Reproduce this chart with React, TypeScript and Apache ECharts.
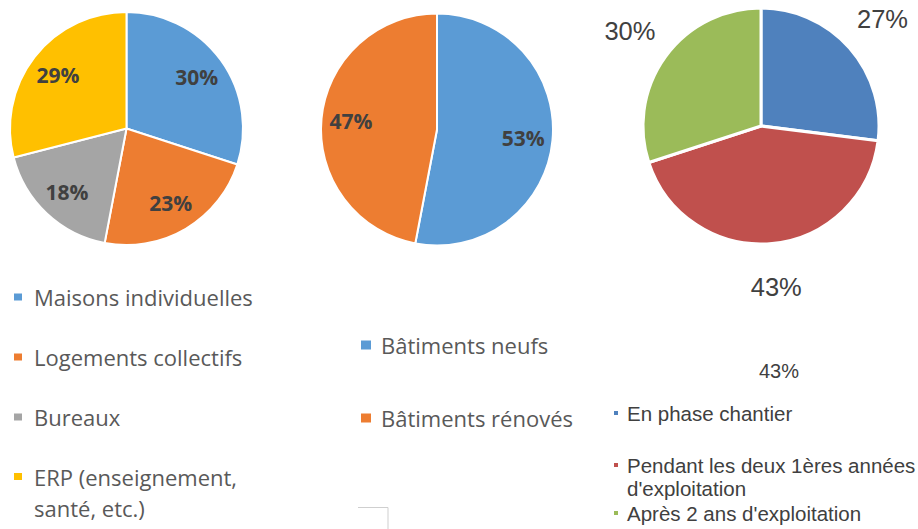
import React, { useEffect, useRef } from "react";
import * as echarts from "echarts";

// Chart 1: building types
const typeCategories = [
  "Maisons individuelles",
  "Logements collectifs",
  "Bureaux",
  "ERP (enseignement,\nsanté, etc.)",
];
const typeValues = [30, 23, 18, 29];
const typeColors = ["#5B9BD5", "#ED7D31", "#A5A5A5", "#FFC000"];

// Chart 2: new vs renovated
const workCategories = ["Bâtiments neufs", "Bâtiments rénovés"];
const workValues = [53, 47];
const workColors = ["#5B9BD5", "#ED7D31"];

// Chart 3: phases
const phaseCategories = [
  "En phase chantier",
  "Pendant les deux 1ères années\nd'exploitation",
  "Après 2 ans d'exploitation",
];
const phaseValues = [27, 43, 30];
const phaseColors = ["#4F81BD", "#C0504D", "#9BBB59"];

const strayLabel = "43%";

const W = 918;
const H = 529;

function makeData(names: string[], values: number[], colors: string[]) {
  return names.map((n, i) => ({ name: n, value: values[i], itemStyle: { color: colors[i] } }));
}
function ghostData(names: string[], values: number[]) {
  return names.map((n, i) => ({ name: n, value: values[i] }));
}

export default function App() {
  const ref = useRef<HTMLDivElement>(null);
  useEffect(() => {
    if (!ref.current) return;
    const chart = echarts.init(ref.current, null, { renderer: "svg" });

    const openSans = "'Open Sans', 'Noto Sans', sans-serif";
    const arial = "'Liberation Sans', Arial, sans-serif";

    const visiblePie = (center: number[], r: number, data: any[], border: number) => ({
      type: "pie",
      center,
      radius: [0, r],
      startAngle: 90,
      clockwise: true,
      silent: true,
      label: { show: false },
      labelLine: { show: false },
      itemStyle: { borderColor: "#ffffff", borderWidth: border },
      emphasis: { disabled: true },
      data,
    });
    const labelPie = (center: number[], r0: number, r1: number, data: any[], labelStyle: any) => ({
      type: "pie",
      center,
      radius: [r0, r1],
      startAngle: 90,
      clockwise: true,
      silent: true,
      itemStyle: { color: "rgba(0,0,0,0)", borderWidth: 0 },
      label: {
        show: true,
        position: "inside",
        formatter: "{c}%",
        ...labelStyle,
      },
      labelLine: { show: false },
      emphasis: { disabled: true },
      legendHoverLink: false,
      data,
    });

    const boldLabel = {
      fontFamily: openSans,
      fontWeight: "bold",
      fontSize: 21,
      color: "#404040",
    };
    const plainLabel = {
      fontFamily: arial,
      fontWeight: "normal",
      fontSize: 25.5,
      color: "#404040",
    };

    const c1 = [126.5, 128.5];
    const r1 = 116.5;
    const c2 = [437, 129.5];
    const r2 = 116;
    const c3 = [761, 126];
    const r3 = 118;

    const legend1Text = {
      fontFamily: openSans,
      fontSize: 22,
      color: "#595959",
      lineHeight: 31,
      padding: [0, 0, 0, 6],
    };
    const legend2Text = { ...legend1Text, padding: [0, 0, 0, 4] };
    const legend3Text = {
      fontFamily: arial,
      fontSize: 20.5,
      color: "#404040",
      lineHeight: 23,
      padding: [0, 0, 0, 3],
    };

    // icons whose square sits at the first text line of a two-line item
    const topSquare1 = "path://M0,0L10,0L10,9L0,9Z M0,40L0,40";
    const topSquare3 = "path://M0,0L6,0L6,6L0,6Z M0,29L0,29";

    const phaseTops = [401.5, 453.5, 501.5];

    const baseLegend = {
      orient: "vertical",
      padding: 0,
      icon: "rect",
      selectedMode: false,
      height: 400,
    };

    chart.setOption({
      animation: false,
      backgroundColor: "#ffffff",
      legend: [
        {
          ...baseLegend,
          left: 12,
          top: 281.5,
          width: 320,
          itemGap: 29,
          itemWidth: 10,
          itemHeight: 9,
          data: typeCategories.slice(0, 3).map((n, i) => ({ name: n, itemStyle: { color: typeColors[i] } })),
          textStyle: legend1Text,
        },
        {
          ...baseLegend,
          left: 12,
          top: 461,
          width: 320,
          itemWidth: 10,
          itemHeight: 40,
          icon: topSquare1,
          data: typeCategories.slice(3).map((n, i) => ({ name: n, itemStyle: { color: typeColors[i + 3] } })),
          textStyle: legend1Text,
        },
        {
          ...baseLegend,
          left: 359,
          top: 329.5,
          width: 300,
          itemGap: 42,
          itemWidth: 12,
          itemHeight: 11,
          data: workCategories.map((n, i) => ({ name: n, itemStyle: { color: workColors[i] } })),
          textStyle: legend2Text,
        },
        ...phaseCategories.map((n, i) => {
          const multi = n.indexOf("\n") >= 0;
          return {
            ...baseLegend,
            left: 612,
            top: phaseTops[i],
            width: 306,
            itemWidth: 6,
            itemHeight: multi ? 29 : 6,
            icon: multi ? topSquare3 : "rect",
            data: [{ name: n, itemStyle: { color: phaseColors[i] } }],
            textStyle: legend3Text,
          };
        }),
      ],
      series: [
        visiblePie(c1, r1, makeData(typeCategories, typeValues, typeColors), 2),
        visiblePie(c2, r2, makeData(workCategories, workValues, workColors), 2),
        visiblePie(c3, r3, makeData(phaseCategories, phaseValues, phaseColors), 3),
        labelPie(c1, r1 * 0.44, r1, ghostData(typeCategories, typeValues), boldLabel),
        labelPie(c2, r2 * 0.44, r2, ghostData(workCategories, workValues), boldLabel),
        labelPie(c3, 136, 182, ghostData(phaseCategories, phaseValues), plainLabel),
      ],
      graphic: [
        {
          type: "text",
          left: 759,
          top: 361,
          style: {
            text: strayLabel,
            font: "20px 'Liberation Sans', Arial, sans-serif",
            fill: "#404040",
          },
          silent: true,
        },
        {
          type: "polyline",
          shape: { points: [[358, 507.5], [388, 507.5], [388, 529]] },
          style: { stroke: "#cfcfcf", lineWidth: 1, fill: "none" },
          silent: true,
        },
      ],
    });
    return () => chart.dispose();
  }, []);
  return (
    <div
      ref={ref}
      style={{ position: "fixed", left: 0, top: 0, width: W, height: H, background: "#fff" }}
    />
  );
}
